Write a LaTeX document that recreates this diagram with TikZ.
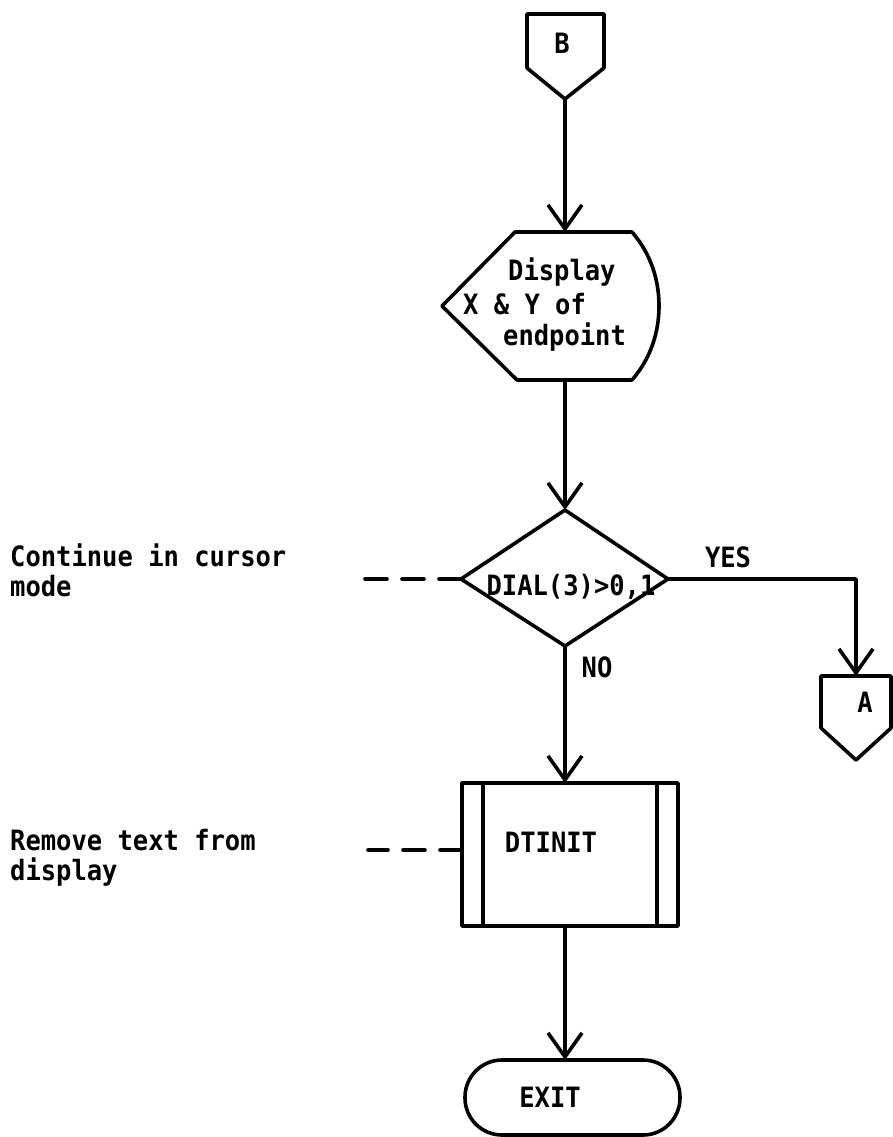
\documentclass[tikz,border=0pt]{standalone}
\usepackage{fontspec}
\newfontfamily\lp[FakeStretch=0.91]{DejaVu Sans Mono}
\usetikzlibrary{arrows.meta}
\tikzset{
  ln/.style={line width=3.6pt, line cap=round, line join=round},
  arr/.style={ln, -{Straight Barb[length=24pt,width=34pt]}},
  dsh/.style={line width=3.6pt, line cap=round, dash pattern=on 22pt off 15pt},
  txt/.style={font=\lp\bfseries\fontsize{28pt}{30pt}\selectfont, inner sep=0pt},
  lbl/.style={txt, anchor=base west},
}
\begin{document}
\begin{tikzpicture}[x=1pt,y=-1pt]
\useasboundingbox (0,0) rectangle (892,1137);
% connector B
\coordinate (Bbot) at (565,99);
\draw[ln] (527,68) -- (527,14) -- (604,14) -- (604,68) -- (Bbot) -- cycle;
\node[txt] (Blbl) at (562,43) {B};
% display shape
\coordinate (Dtop) at (565,232);
\coordinate (Dbot) at (565,380);
\draw[ln] (515,232) -- (632,232) .. controls (651,254) and (659,280) .. (659,306)
  .. controls (659,332) and (651,358) .. (632,380) -- (517,380) -- (442,306) -- cycle;
\node[lbl] (D1) at (508,280) {Display};
\node[lbl] (D2) at (463,314) {X \& Y of};
\node[lbl] (D3) at (503,345) {endpoint};
% decision
\coordinate (Qtop) at (565,510);
\coordinate (Qleft) at (461,579);
\coordinate (Qright) at (668,579);
\coordinate (Qbot) at (565,646);
\draw[ln] (Qtop) -- (Qright) -- (Qbot) -- (Qleft) -- cycle;
\node[txt] (Qlbl) at (571,587) {DIAL(3)>0,1};
\node[txt] (yes) at (728,557) {YES};
\node[txt] (no) at (597,667) {NO};
% connector A
\coordinate (corner) at (856,579);
\coordinate (Atop) at (856,676);
\draw[ln] (821,728) -- (821,676) -- (891,676) -- (891,728) -- (856,760) -- cycle;
\node[txt] (Albl) at (865,702) {A};
% predefined process
\coordinate (Ptop) at (565,783);
\coordinate (Pbot) at (565,926);
\coordinate (Pleft) at (462,850);
\draw[ln] (462,783) rectangle (678,926);
\draw[line width=4.5pt] (483,783) -- (483,926);
\draw[line width=4.5pt] (657,783) -- (657,926);
\node[txt] (Plbl) at (551,842) {DTINIT};
% exit
\node[ln, draw, rounded corners=37pt, minimum width=215pt, minimum height=75pt, inner sep=0pt] (exit) at (572.5,1097.5) {};
\coordinate (Etop) at (565,1060);
\node[txt] (Elbl) at (550,1097) {EXIT};
% annotations
\coordinate (c1) at (365,579);
\coordinate (c2) at (368,850);
\node[lbl] (t1) at (10,566) {Continue in cursor};
\node[lbl] (t2) at (10,596) {mode};
\node[lbl] (t3) at (10,850) {Remove text from};
\node[lbl] (t4) at (10,880) {display};
% connectors
\draw[arr] (Bbot) -- (Dtop);
\draw[arr] (Dbot) -- (Qtop);
\draw[arr] (Qbot) -- (Ptop);
\draw[arr] (Pbot) -- (Etop);
\draw[arr] (Qright) -- (corner) -- (Atop);
\draw[dsh] (Qleft) -- (c1);
\draw[dsh] (Pleft) -- (c2);
\end{tikzpicture}
\end{document}
